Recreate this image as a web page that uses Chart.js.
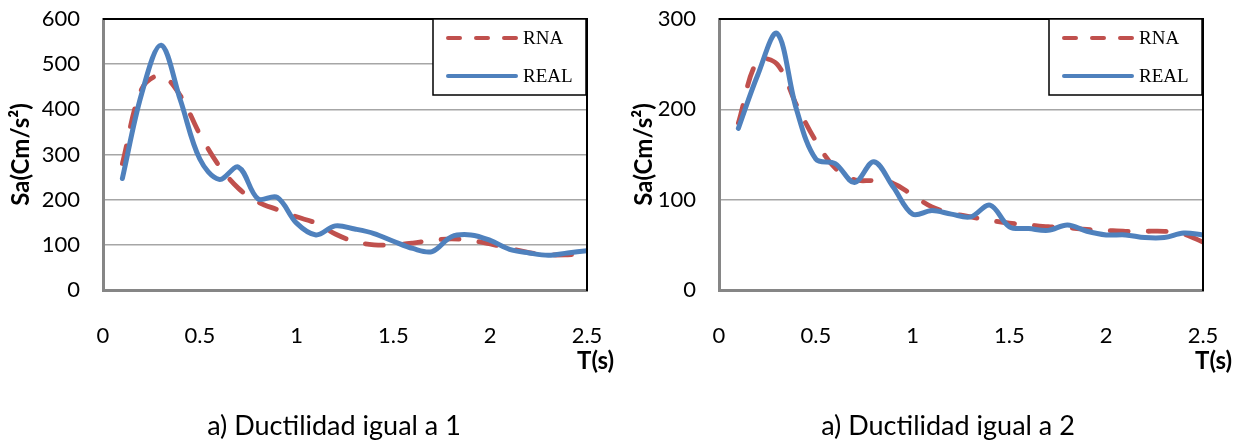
<!DOCTYPE html>
<html>
<head>
<meta charset="utf-8">
<script src="https://cdn.jsdelivr.net/npm/chart.js@4.4.0/dist/chart.umd.min.js"></script>
<style>
html,body{margin:0;padding:0;background:#fff;}
#wrap{position:relative;width:1247px;height:443px;overflow:hidden;background:#fff;}
canvas{position:absolute;top:0;}
.lbl{position:absolute;font-family:Lato,"Open Sans",sans-serif;color:#000;white-space:nowrap;line-height:1;}
.tt{font-weight:bold;font-size:24px;}
.cap{font-size:27px;transform:translateX(-50%);}
</style>
</head>
<body>
<div id="wrap">
  <canvas id="c1" width="623" height="443" style="left:0"></canvas>
  <canvas id="c2" width="624" height="443" style="left:623px"></canvas>
  <div class="lbl tt" style="left:577px;top:348px">T(s)</div>
  <div class="lbl tt" style="left:1195px;top:348px">T(s)</div>
  <div class="lbl cap" style="left:334px;top:411px">a) Ductilidad igual a 1</div>
  <div class="lbl cap" style="left:948px;top:411px">a) Ductilidad igual a 2</div>
</div>
<script>
// ---- data ----
const periods = [0.1,0.2,0.3,0.4,0.5,0.6,0.7,0.8,0.9,1.0,1.1,1.2,1.3,1.4,1.5,1.6,1.7,1.8,1.9,2.0,2.1,2.2,2.3,2.4,2.5];
const rnaDuct1  = [280,445,475,430,345,275,225,195,178,162,148,124,107,100,100,104,110,113,110,102,92,83,78,78,80];
const realDuct1 = [247,435,542,420,290,245,272,202,205,148,122,142,135,125,108,92,85,118,122,110,90,82,77,82,87];
const rnaDuct2  = [185,254,250,205,165,135,122,121,118,105,92,85,81,77,74,72,70,69,67,66,65,65,65,62,53];
const realDuct2 = [179,238,284,200,145,140,119,142,114,84,88,84,81,94,70,68,66,72,65,61,61,58,58,63,61];
const xTickValues = [0,0.5,1,1.5,2,2.5];
const yMax1 = 600, yMax2 = 300, yStep = 100;
const seriesNames = ['RNA','REAL'];
const yTitle = 'Sa(Cm/s\u00B2)';

const RED = '#C0504D', BLUE = '#4F81BD';

function pts(xs, ys){ return xs.map((x,i)=>({x:x, y:ys[i]})); }

const frameLegend = {
  id:'frameLegend',
  afterDatasetsDraw(chart){
    const {ctx, chartArea:a} = chart;
    ctx.save();
    ctx.strokeStyle = '#000';
    ctx.lineWidth = 2;
    ctx.beginPath();
    ctx.moveTo(a.left, a.top); ctx.lineTo(a.right, a.top); ctx.lineTo(a.right, a.bottom+1);
    ctx.stroke();
    const w = 153, h = 76;
    const bx = a.right - 154, by = a.top;
    ctx.fillStyle = '#fff';
    ctx.fillRect(bx, by, w, h);
    ctx.lineWidth = 1.5;
    ctx.strokeRect(bx, by, w, h);
    chart.data.datasets.forEach((ds, i) => {
      const y = by + 19 + i*38;
      ctx.beginPath();
      ctx.setLineDash(ds.borderDash ? [12,16] : []);
      ctx.lineCap = 'round';
      ctx.strokeStyle = ds.borderColor;
      ctx.lineWidth = 4;
      ctx.moveTo(bx+15, y); ctx.lineTo(bx+83, y);
      ctx.stroke();
      ctx.setLineDash([]);
      ctx.fillStyle = '#000';
      ctx.font = '19px "Liberation Serif", "Times New Roman", serif';
      ctx.textBaseline = 'middle';
      ctx.textAlign = 'left';
      ctx.fillText(ds.label, bx+90, y+1);
    });
    ctx.restore();
  }
};

function makeChart(id, rna, real, yMax, yAxisWidth, rightPad){
  return new Chart(document.getElementById(id), {
    type:'line',
    data:{
      datasets:[
        {label:seriesNames[0], data:pts(periods, rna), borderColor:RED, backgroundColor:RED,
         borderWidth:4.8, borderDash:[18,20], borderCapStyle:'round', pointRadius:0, tension:0.35, fill:false, order:1},
        {label:seriesNames[1], data:pts(periods, real), borderColor:BLUE, backgroundColor:BLUE,
         borderWidth:5, borderCapStyle:'round', borderJoinStyle:'round', pointRadius:0, tension:0.35, fill:false, order:0}
      ]
    },
    options:{
      responsive:false,
      animation:false,
      events:[],
      layout:{padding:{left:0, right:rightPad, top:19, bottom:0}},
      plugins:{legend:{display:false}, tooltip:{enabled:false}, title:{display:false}},
      scales:{
        x:{
          type:'linear', min:0, max:2.5,
          afterBuildTicks(scale){ scale.ticks = xTickValues.map(v=>({value:v})); },
          afterFit(scale){ scale.height = 443 - 290; scale.paddingLeft = 0; scale.paddingRight = 0; },
          grid:{display:false, drawTicks:false},
          border:{display:true, color:'#868686', width:3},
          ticks:{color:'#000', font:{family:'Lato', size:22}, padding:33, maxRotation:0, autoSkip:false,
                 callback:(v)=>String(v)}
        },
        y:{
          type:'linear', min:0, max:yMax,
          ticks:{stepSize:yStep, color:'#000', font:{family:'Lato', size:22}, padding:23},
          afterFit(scale){ scale.width = yAxisWidth; scale.paddingTop = 0; scale.paddingBottom = 0; },
          grid:{color:'#a6a6a6', lineWidth:1.5, drawTicks:false},
          border:{display:true, color:'#868686', width:3},
          title:{display:true, text:yTitle, color:'#000', font:{family:'Lato', size:24, weight:'bold'}, padding:{top:7, bottom:0}}
        }
      }
    },
    plugins:[frameLegend]
  });
}

makeChart('c1', rnaDuct1, realDuct1, yMax1, 103, 36);
makeChart('c2', rnaDuct2, realDuct2, yMax2, 96, 44);
</script>
</body>
</html>
